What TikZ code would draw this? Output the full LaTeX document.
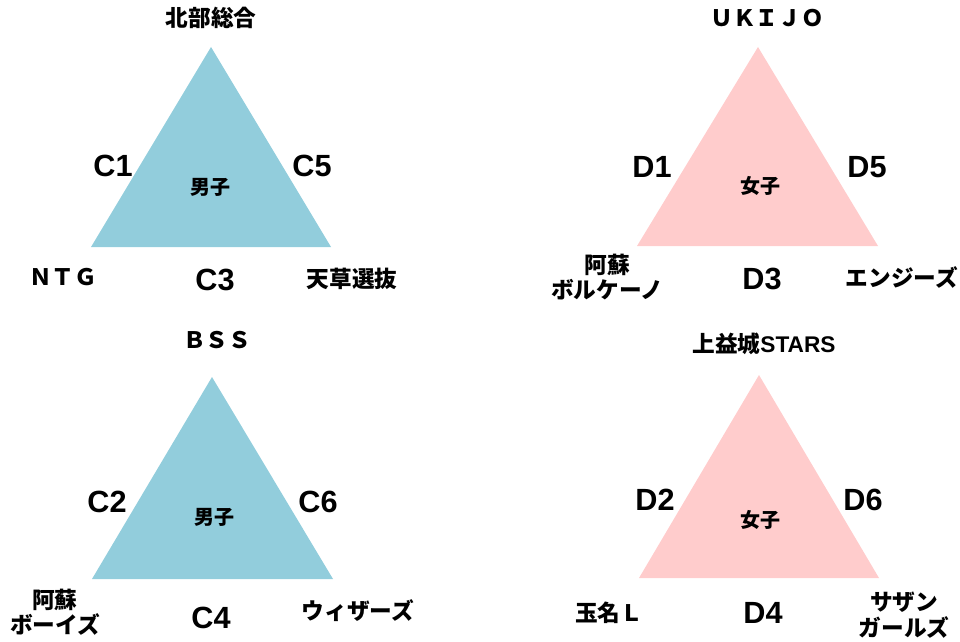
\documentclass[tikz,border=0pt]{standalone}
\usepackage{fontspec}
\setmainfont{Noto Sans CJK JP}
\newfontfamily\latsans{Liberation Sans}
\definecolor{triblue}{HTML}{92CDDC}
\definecolor{tripink}{HTML}{FFCCCC}
\tikzset{
  team/.style={font=\bfseries\fontsize{17}{19}\selectfont, align=center, inner sep=0pt},
  game/.style={font=\latsans\bfseries\fontsize{23}{26}\selectfont, inner sep=0pt},
  cat/.style={font=\bfseries\fontsize{15}{17}\selectfont, inner sep=0pt},
}
\begin{document}
\begin{tikzpicture}[x=0.75pt,y=-0.75pt]
\useasboundingbox (0,0) rectangle (960,642);
% triangle corners
\coordinate (t1a) at (211,47);  \coordinate (t1b) at (91,247);  \coordinate (t1c) at (331,247);
\coordinate (t2a) at (758,47);  \coordinate (t2b) at (637,246); \coordinate (t2c) at (878,246);
\coordinate (t3a) at (212,377); \coordinate (t3b) at (92,579);  \coordinate (t3c) at (333,579);
\coordinate (t4a) at (759,375); \coordinate (t4b) at (639,578); \coordinate (t4c) at (879,578);
\fill[triblue] (t1a) -- (t1b) -- (t1c) -- cycle;
\fill[tripink] (t2a) -- (t2b) -- (t2c) -- cycle;
\fill[triblue] (t3a) -- (t3b) -- (t3c) -- cycle;
\fill[tripink] (t4a) -- (t4b) -- (t4c) -- cycle;
% top-left
\node[team] (n1) at (211,18) {北部総合};
\node[game] (c1) at (113,166) {C1};
\node[game] (c5) at (312,166) {C5};
\node[cat]  (m1) at (210,187) {男子};
\node[game] (c3) at (215,280) {C3};
\node[team] (n2) at (63,277) {ＮＴＧ};
\node[team] (n3) at (352,279) {天草選抜};
% top-right
\node[team] (n4) at (767,18) {ＵＫＩＪＯ};
\node[game] (d1) at (652,167) {D1};
\node[game] (d5) at (867,167) {D5};
\node[cat]  (w1) at (760,186) {女子};
\node[game] (d3) at (762,279) {D3};
\node[team] (n5) at (607,277) {阿蘇\\ボルケーノ};
\node[team] (n6) at (902,277) {エンジーズ};
% bottom-left
\node[team] (n7) at (217,340) {ＢＳＳ};
\node[game] (c2) at (107,502) {C2};
\node[game] (c6) at (318,502) {C6};
\node[cat]  (m2) at (214,517) {男子};
\node[game] (c4) at (211,618) {C4};
\node[team] (n8) at (55,612) {阿蘇\\ボーイズ};
\node[team] (n9) at (358,611) {ウィザーズ};
% bottom-right
\node[team] (n10) at (764,344) {上益城{\latsans\bfseries STARS}};
\node[game] (d2) at (655,500) {D2};
\node[game] (d6) at (863,500) {D6};
\node[cat]  (w2) at (760,520) {女子};
\node[game] (d4) at (763,613) {D4};
\node[team] (n11) at (609,613) {玉名Ｌ};
\node[team] (n12) at (904,615) {サザン\\ガールズ};
\end{tikzpicture}
\end{document}
